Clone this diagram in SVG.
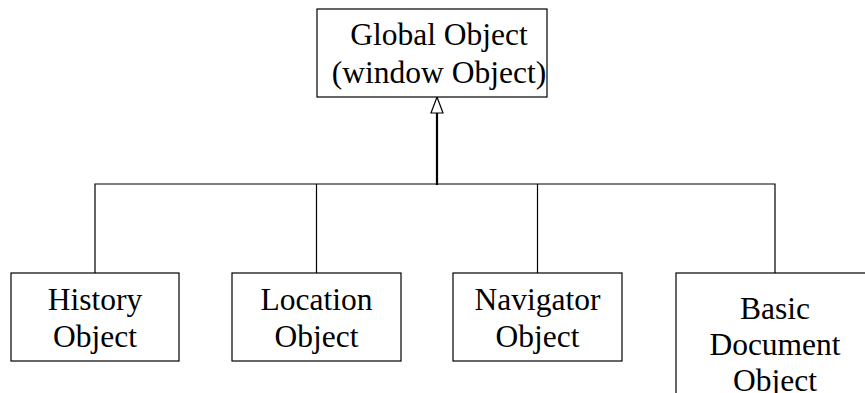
<svg xmlns="http://www.w3.org/2000/svg" width="865" height="393" viewBox="0 0 865 393">
<style>
.box{fill:#fff;stroke:#000;stroke-width:1.2}
.t{font-family:'Liberation Serif','Times New Roman',serif;font-size:31.5px;fill:#000;text-anchor:middle}
.c{fill:none;stroke:#000;stroke-width:1.2}
.thick{stroke-width:2.2}
</style>
<rect width="865" height="393" fill="#fff"/>
<g id="connectors">
<path class="c" d="M95,273 V184 H775 V273"/>
<path class="c" d="M316.5,184 V273"/>
<path class="c" d="M537.5,184 V273"/>
<path class="c thick" d="M437,185 V113"/>
<path d="M431,113 L437,97 L443,113 Z" fill="#fff" stroke="#000" stroke-width="1.2"/>
</g>
<g id="global">
<rect class="box" x="317" y="9" width="230" height="88"/>
<text class="t" x="439" y="45">Global Object</text>
<text class="t" x="439" y="83">(window Object)</text>
</g>
<g id="history">
<rect class="box" x="11" y="273" width="168" height="88"/>
<text class="t" x="95" y="310">History</text>
<text class="t" x="95" y="347">Object</text>
</g>
<g id="location">
<rect class="box" x="232" y="273" width="169" height="88"/>
<text class="t" x="316.5" y="310">Location</text>
<text class="t" x="316.5" y="347">Object</text>
</g>
<g id="navigator">
<rect class="box" x="453" y="273" width="169" height="88"/>
<text class="t" x="537.5" y="310">Navigator</text>
<text class="t" x="537.5" y="347">Object</text>
</g>
<g id="document">
<rect class="box" x="676" y="273" width="200" height="140"/>
<text class="t" x="775" y="319">Basic</text>
<text class="t" x="775" y="355">Document</text>
<text class="t" x="775" y="391">Object</text>
</g>
</svg>
